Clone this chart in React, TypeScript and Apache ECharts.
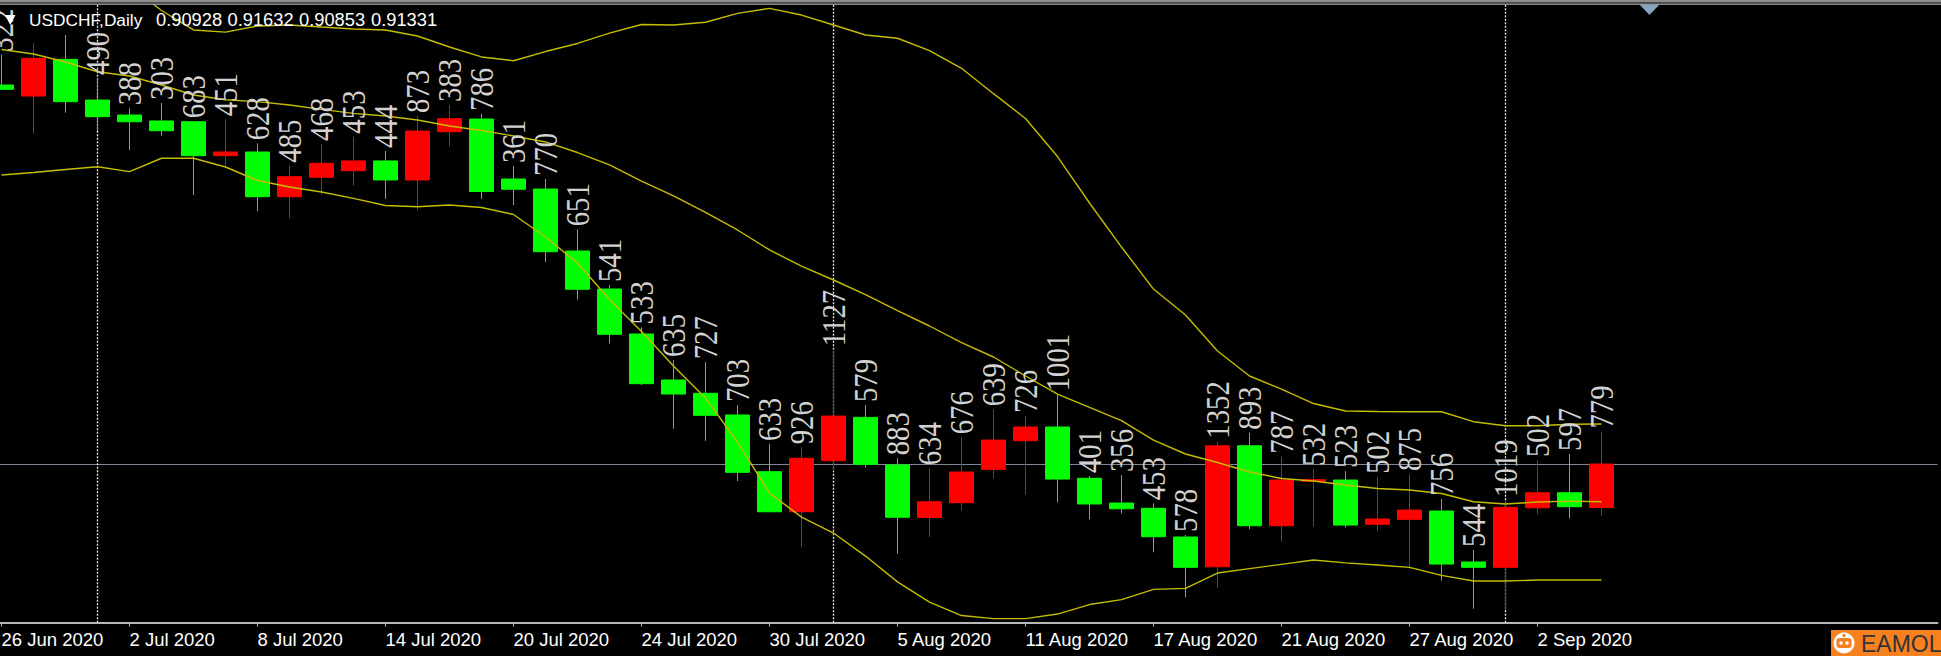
import React, { useEffect, useRef } from 'react';
import * as echarts from 'echarts';

// ---------- data ----------
const dates = [
  '26 Jun 2020', '29 Jun 2020', '30 Jun 2020', '1 Jul 2020', '2 Jul 2020', '3 Jul 2020',
  '6 Jul 2020', '7 Jul 2020', '8 Jul 2020', '9 Jul 2020', '10 Jul 2020', '13 Jul 2020',
  '14 Jul 2020', '15 Jul 2020', '16 Jul 2020', '17 Jul 2020', '20 Jul 2020', '21 Jul 2020',
  '22 Jul 2020', '23 Jul 2020', '24 Jul 2020', '27 Jul 2020', '28 Jul 2020', '29 Jul 2020',
  '30 Jul 2020', '31 Jul 2020', '3 Aug 2020', '4 Aug 2020', '5 Aug 2020', '6 Aug 2020',
  '7 Aug 2020', '10 Aug 2020', '11 Aug 2020', '12 Aug 2020', '13 Aug 2020', '14 Aug 2020',
  '17 Aug 2020', '18 Aug 2020', '19 Aug 2020', '20 Aug 2020', '21 Aug 2020', '24 Aug 2020',
  '25 Aug 2020', '26 Aug 2020', '27 Aug 2020', '28 Aug 2020', '31 Aug 2020', '1 Sep 2020',
  '2 Sep 2020', '3 Sep 2020', '4 Sep 2020',
];

const opens = [
  0.94840, 0.94738, 0.95078, 0.94701, 0.94562, 0.94507, 0.94500, 0.94186, 0.94220, 0.93806,
  0.93986, 0.94047, 0.94137, 0.93961, 0.94408, 0.94525, 0.93970, 0.93877, 0.93303, 0.92951,
  0.92535, 0.92109, 0.91986, 0.91785, 0.91260, 0.90889, 0.91362, 0.91763, 0.91322, 0.90836,
  0.90973, 0.91282, 0.91547, 0.91674, 0.91199, 0.90970, 0.90921, 0.90655, 0.90380, 0.91500,
  0.90760, 0.91171, 0.91183, 0.90773, 0.90819, 0.90896, 0.90424, 0.90375, 0.90926, 0.91065,
  0.90928,
];
const highs = [
  0.95121, 0.95226, 0.95303, 0.94905, 0.94625, 0.94674, 0.94505, 0.94523, 0.94300, 0.94093,
  0.94294, 0.94362, 0.94229, 0.94553, 0.94655, 0.94572, 0.94090, 0.93970, 0.93504, 0.92988,
  0.92596, 0.92294, 0.92273, 0.91877, 0.91517, 0.91486, 0.92393, 0.91877, 0.91384, 0.91291,
  0.91578, 0.91838, 0.91775, 0.91976, 0.91220, 0.91229, 0.90967, 0.90674, 0.91538, 0.91621,
  0.91399, 0.91285, 0.91266, 0.91213, 0.91238, 0.91007, 0.90535, 0.90998, 0.91368, 0.91424,
  0.91632,
];
const lows = [
  0.94799, 0.94393, 0.94584, 0.94415, 0.94237, 0.94371, 0.93822, 0.94072, 0.93672, 0.93608,
  0.93826, 0.93909, 0.93785, 0.93680, 0.94272, 0.93786, 0.93729, 0.93200, 0.92853, 0.92447,
  0.92063, 0.91659, 0.91546, 0.91174, 0.90884, 0.90560, 0.91266, 0.91298, 0.90501, 0.90657,
  0.90902, 0.91199, 0.91049, 0.90975, 0.90819, 0.90873, 0.90514, 0.90096, 0.90186, 0.90728,
  0.90612, 0.90753, 0.90743, 0.90711, 0.90363, 0.90251, 0.89991, 0.89979, 0.90866, 0.90827,
  0.90853,
];
const closes = [
  0.94800, 0.95087, 0.94686, 0.94547, 0.94500, 0.94417, 0.94186, 0.94220, 0.93806, 0.93991,
  0.94115, 0.94137, 0.93961, 0.94414, 0.94528, 0.93854, 0.93875, 0.93297, 0.92949, 0.92532,
  0.92075, 0.91979, 0.91782, 0.91254, 0.90889, 0.91384, 0.91775, 0.91328, 0.90838, 0.90982,
  0.91257, 0.91553, 0.91674, 0.91192, 0.90961, 0.90917, 0.90658, 0.90375, 0.91500, 0.90760,
  0.91183, 0.91186, 0.90766, 0.90822, 0.90905, 0.90405, 0.90375, 0.90930, 0.91065, 0.90936,
  0.91331,
];

// candle range in points, as printed above each candle (null = not shown)
const rangeLabels = [
  322, null, null, 490, 388, 303, 683, 451, 628, 485,
  468, 453, 444, 873, 383, 786, 361, 770, 651, 541,
  533, 635, 727, 703, 633, 926, 1127, 579, 883, 634,
  676, 639, 726, 1001, 401, 356, 453, 578, 1352, 893,
  787, 532, 523, 502, 875, 756, 544, 1019, 502, 597,
  779,
];

const bbUpper = [
  0.96331, 0.96224, 0.96048, 0.95842, 0.95760, 0.95530, 0.95350, 0.95330, 0.95387, 0.95396,
  0.95377, 0.95359, 0.95350, 0.95294, 0.95192, 0.95100, 0.95065, 0.95150, 0.95225, 0.95320,
  0.95400, 0.95396, 0.95421, 0.95503, 0.95550, 0.95488, 0.95396, 0.95303, 0.95273, 0.95158,
  0.94995, 0.94760, 0.94530, 0.94178, 0.93748, 0.93340, 0.92951, 0.92711, 0.92377, 0.92146,
  0.92025, 0.91891, 0.91822, 0.91817, 0.91815, 0.91815, 0.91723, 0.91686, 0.91686, 0.91699,
  0.91701,
];
const bbMiddle = [
  0.95169, 0.95127, 0.95053, 0.94963, 0.94924, 0.94840, 0.94748, 0.94704, 0.94686, 0.94655,
  0.94615, 0.94578, 0.94553, 0.94516, 0.94461, 0.94419, 0.94368, 0.94313, 0.94215, 0.94100,
  0.93951, 0.93813, 0.93660, 0.93498, 0.93313, 0.93164, 0.93035, 0.92900, 0.92752, 0.92609,
  0.92456, 0.92322, 0.92146, 0.91979, 0.91856, 0.91733, 0.91553, 0.91424, 0.91345, 0.91257,
  0.91197, 0.91174, 0.91137, 0.91104, 0.91090, 0.91058, 0.90982, 0.90961, 0.90979, 0.90988,
  0.90982,
];
const bbLower = [
  0.94007, 0.94030, 0.94058, 0.94084, 0.94038, 0.94162, 0.94162, 0.94081, 0.93956, 0.93896,
  0.93850, 0.93791, 0.93725, 0.93713, 0.93729, 0.93706, 0.93641, 0.93433, 0.93192, 0.92854,
  0.92558, 0.92238, 0.91942, 0.91535, 0.91062, 0.90840, 0.90692, 0.90479, 0.90240, 0.90053,
  0.89928, 0.89900, 0.89900, 0.89942, 0.90030, 0.90076, 0.90171, 0.90180, 0.90322, 0.90363,
  0.90402, 0.90442, 0.90416, 0.90396, 0.90374, 0.90300, 0.90248, 0.90248, 0.90257, 0.90257,
  0.90257,
];

const periodSeparators = ['1 Jul 2020', '3 Aug 2020', '1 Sep 2020'];
const symbolName = 'USDCHF,Daily';
const brandName = 'EAMOL';
const priceMin = 0.89862;
const priceMax = 0.95581;
const emptySlots = 10; // chart shift to the right of the last bar

// ---------- chart ----------
const W = 1941;
const H = 656;
const BAR_STEP = 32;
const UI_FONT = "'Liberation Sans', Arial, sans-serif";
const LABEL_FONT = "'Liberation Serif', 'Times New Roman', serif";

function buildOption(): any {
  const cats = [...dates, ...Array(emptySlots).fill('')];
  const n = dates.length;
  const showTick = (idx: number) => idx % 4 === 0 && idx < n;
  const gridLeft = -BAR_STEP / 2 + 1.5;
  const gridWidth = cats.length * BAR_STEP;
  const last = n - 1;
  const ohlc = [opens[last], highs[last], lows[last], closes[last]].map((v) => v.toFixed(5));
  const ohlcX = [156, 227.5, 299, 371];

  const candleData = dates.map((_, i) => [opens[i], closes[i], lows[i], highs[i]]);
  const labelData: any[] = [];
  rangeLabels.forEach((v, i) => {
    if (v != null) labelData.push([i, highs[i], v]);
  });

  const bandLine = (name: string, data: number[]) => ({
    name,
    type: 'line',
    data,
    symbol: 'none',
    showSymbol: false,
    smooth: false,
    clip: true,
    silent: true,
    z: 3,
    lineStyle: { color: '#c4bd00', width: 1.4 },
  });

  const titleStyle = { fill: '#ffffff', fontFamily: UI_FONT, fontSize: 18.3, verticalAlign: 'middle', align: 'left' };

  return {
    animation: false,
    backgroundColor: '#000000',
    grid: {
      left: gridLeft,
      width: gridWidth,
      top: 5,
      bottom: 33.3,
      containLabel: false,
      outerBoundsMode: 'none',
    },
    xAxis: {
      type: 'category',
      data: cats,
      boundaryGap: true,
      axisLine: { show: true, lineStyle: { color: '#b8b8b8', width: 2 } },
      axisTick: {
        show: true,
        alignWithLabel: true,
        length: 4,
        interval: (idx: number) => showTick(idx),
        lineStyle: { color: '#b8b8b8', width: 1 },
      },
      axisLabel: {
        show: true,
        interval: (idx: number) => showTick(idx),
        color: '#ffffff',
        fontFamily: UI_FONT,
        fontSize: 18.5,
        lineHeight: 18,
        align: 'left',
        verticalAlign: 'top',
        margin: 8,
        hideOverlap: false,
      },
      splitLine: { show: false },
    },
    yAxis: {
      type: 'value',
      min: priceMin,
      max: priceMax,
      show: false,
      splitLine: { show: false },
    },
    graphic: [
      { type: 'rect', silent: true, shape: { x: 0, y: 0, width: W, height: 2.5 }, style: { fill: '#8e8e8e' }, z: 100 },
      { type: 'rect', silent: true, shape: { x: 0, y: 3.5, width: W, height: 1.3 }, style: { fill: '#b4b4b4' }, z: 100 },
      {
        type: 'polygon', silent: true, z: 100,
        shape: { points: [[1639.5, 4.5], [1659.5, 4.5], [1649.5, 15]] },
        style: { fill: '#8aa3c2' },
      },
      {
        type: 'polygon', silent: true, z: 100,
        shape: { points: [[5, 15], [15.5, 15], [10.25, 25]] },
        style: { fill: '#ffffff' },
      },
      { type: 'text', silent: true, z: 100, x: 29, y: 19.5, style: { ...titleStyle, fontSize: 17.3, text: symbolName } },
      ...ohlc.map((t, k) => ({
        type: 'text', silent: true, z: 100, x: ohlcX[k], y: 19.5,
        style: { ...titleStyle, text: t },
      })),
      // brand badge bottom right
      { type: 'rect', silent: true, z: 100, shape: { x: 1831, y: 630, width: 110, height: 26 }, style: { fill: '#f7811f' } },
      { type: 'circle', silent: true, z: 101, shape: { cx: 1844, cy: 643, r: 10.5 }, style: { fill: '#ffffff' } },
      { type: 'rect', silent: true, z: 102, shape: { x: 1836.5, y: 638, width: 15, height: 10, r: 3 }, style: { fill: '#f7811f' } },
      { type: 'circle', silent: true, z: 103, shape: { cx: 1841, cy: 643, r: 1.8 }, style: { fill: '#ffffff' } },
      { type: 'circle', silent: true, z: 103, shape: { cx: 1847, cy: 643, r: 1.8 }, style: { fill: '#ffffff' } },
      { type: 'circle', silent: true, z: 102, shape: { cx: 1844, cy: 635.5, r: 1.6 }, style: { fill: '#f7811f' } },
      {
        type: 'text', silent: true, z: 101, x: 1861, y: 643.5,
        style: { text: brandName, fill: '#333333', fontFamily: UI_FONT, fontSize: 23, verticalAlign: 'middle', align: 'left' },
      },
    ],
    series: [
      {
        name: 'price',
        type: 'candlestick',
        data: candleData,
        barWidth: 24,
        z: 2,
        silent: true,
        itemStyle: {
          color: '#ff0000',
          color0: '#00ff00',
          borderColor: '#ff0000',
          borderColor0: '#00ff00',
          borderWidth: 1,
        },
        markLine: {
          silent: true,
          z: 1,
          precision: 5,
          symbol: ['none', 'none'],
          label: { show: false },
          animation: false,
          data: [
            { yAxis: closes[last], lineStyle: { color: '#7f8a96', width: 1, type: 'solid' } },
            ...periodSeparators.map((d) => ({
              xAxis: d,
              lineStyle: { color: '#f0f0f0', width: 1.3, type: [2, 1.5] },
            })),
          ],
        },
      },
      bandLine('upper', bbUpper),
      bandLine('middle', bbMiddle),
      bandLine('lower', bbLower),
      {
        name: 'range',
        type: 'custom',
        data: labelData,
        encode: { x: 0, y: 1 },
        z: 4,
        silent: true,
        renderItem: (params: any, api: any) => {
          const pt = api.coord([api.value(0), api.value(1)]);
          return {
            type: 'text',
            x: pt[0],
            y: pt[1] - 3,
            rotation: Math.PI / 2,
            scaleX: 0.9,
            scaleY: 1.05,
            style: {
              text: String(api.value(2)),
              fill: '#d2d2d2',
              fontFamily: LABEL_FONT,
              fontSize: 32,
              align: 'left',
              verticalAlign: 'middle',
            },
          };
        },
      },
    ],
  };
}

export default function App() {
  const ref = useRef<HTMLDivElement>(null);
  useEffect(() => {
    if (!ref.current) return;
    const chart = echarts.init(ref.current, null, { renderer: 'svg' });
    chart.setOption(buildOption());
    return () => chart.dispose();
  }, []);
  return (
    <div
      ref={ref}
      style={{ position: 'fixed', left: 0, top: 0, width: W + 'px', height: H + 'px', background: '#000' }}
    />
  );
}
